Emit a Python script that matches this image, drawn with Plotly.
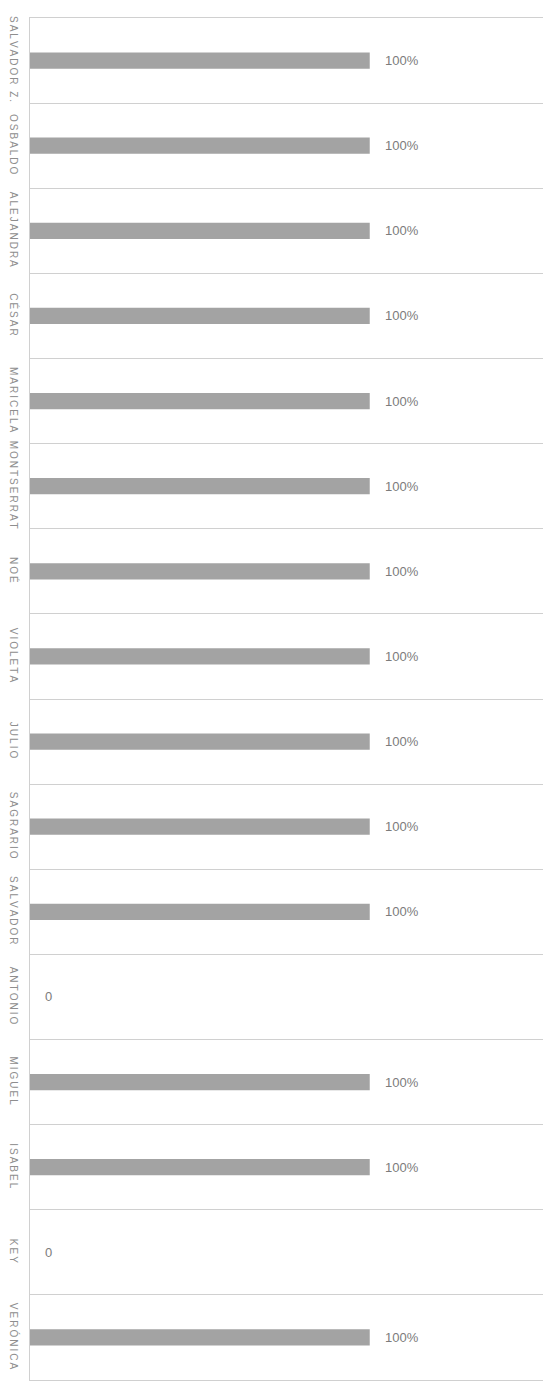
import plotly.graph_objects as go

names = ["SALVADOR Z.", "OSBALDO", "ALEJANDRA", "CÉSAR", "MARICELA", "MONTSERRAT",
         "NOÉ", "VIOLETA", "JULIO", "SAGRARIO", "SALVADOR", "ANTONIO", "MIGUEL",
         "ISABEL", "KEY", "VERÓNICA"]
values = [100, 100, 100, 100, 100, 100, 100, 100, 100, 100, 100, 0, 100, 100, 0, 100]
labels = [f"{v}%" if v else "0" for v in values]

# letter-spaced tick text (thin spaces between letters)
tick_text = ["\u2009".join(n) for n in names]

fig = go.Figure(go.Bar(
    x=values, y=names, orientation="h",
    marker=dict(color="#a3a3a3", line=dict(width=0)),
    width=0.19, hoverinfo="skip",
))

for v, n, t in zip(values, names, labels):
    fig.add_annotation(x=v, y=n, text=t, xref="x", yref="y", showarrow=False,
                       xanchor="left", yanchor="middle", xshift=13,
                       font=dict(family="Liberation Sans, Arial", size=13, color="#7c7c7c"))

fig.update_layout(
    width=549, height=1383,
    margin=dict(l=30, r=6, t=18, b=3),
    paper_bgcolor="white", plot_bgcolor="white",
    showlegend=False,
    font=dict(family="Liberation Sans, Arial", color="#8a8a8a"),
)
fig.update_xaxes(range=[0, 151], showgrid=False, zeroline=False, showticklabels=False,
                 showline=True, linecolor="#d0d0d0", linewidth=1, mirror=True,
                 automargin=False)
fig.update_yaxes(type="category", autorange="reversed", tickson="boundaries",
                 tickmode="array", tickvals=names, ticktext=tick_text,
                 showgrid=True, gridcolor="#d0d0d0", gridwidth=1,
                 showline=True, linecolor="#d0d0d0", linewidth=1,
                 ticks="", tickangle=90, ticklabelstandoff=7, automargin=False,
                 tickfont=dict(family="Liberation Sans, Arial", size=10, color="#8e8e8e"))

fig.write_html("out.html",
               config={"displayModeBar": False},
               post_script="document.body.style.margin='0';document.body.style.overflow='hidden';")
